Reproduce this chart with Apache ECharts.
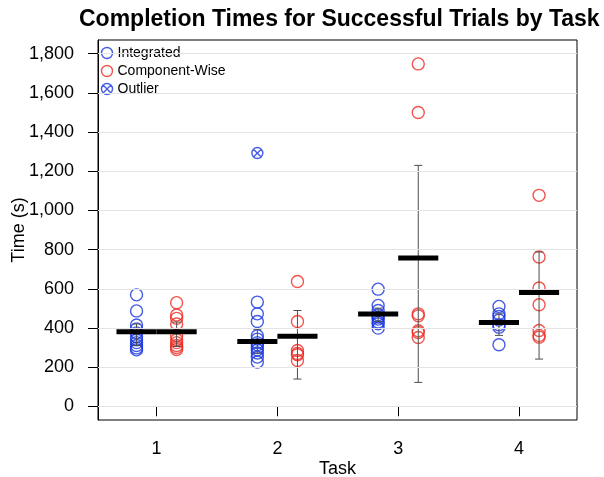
<!DOCTYPE html>
<html>
<head>
<meta charset="utf-8">
<script src="https://cdn.jsdelivr.net/npm/echarts@6/dist/echarts.min.js"></script>
<style>html,body{margin:0;padding:0;background:#fff}#c{width:604px;height:477px}</style>
</head>
<body>
<div id="c"></div>
<script>
// ---- data ----
var tasks = [1, 2, 3, 4];
var yTicks = [0, 200, 400, 600, 800, 1000, 1200, 1400, 1600, 1800];
var integrated = [
  [569, 487, 415, 395, 375, 355, 340, 325, 310, 298, 288],
  [532, 472, 433, 360, 343, 325, 314, 300, 288, 272, 251, 226],
  [598, 515, 489, 467, 455, 445, 430, 421, 399],
  [510, 472, 459, 440, 416, 404, 314]
];
var componentWise = [
  [529, 466, 449, 420, 360, 340, 325, 310, 300, 290],
  [637, 433, 285, 270, 263, 234],
  [1748, 1500, 472, 462, 386, 377, 351],
  [1077, 762, 604, 518, 387, 362, 353]
];
var outliers = [[2, 1293]]; // [task, time] integrated outlier
var meanIntegrated = [380, 331, 471, 428];
var meanComponent = [380, 357, 757, 581];
var errIntegrated = [[310, 420], [271, 393], [433, 501], [362, 472]];
var errComponent = [[305, 430], [139, 489], [122, 1230], [241, 788]];

// ---- styling / layout ----
var OFF = 0.166;
var BLUE = '#1633e0';
var RED = '#ee2a22';
var FONT = 'Liberation Sans, Arial, sans-serif';

function pts(groups, off) {
  var out = [];
  groups.forEach(function (g, i) {
    g.forEach(function (v) { out.push([tasks[i] + off, v]); });
  });
  return out;
}
function meanData(m, off) { return m.map(function (v, i) { return [tasks[i] + off, v]; }); }
function errData(e, off) { return e.map(function (r, i) { return [tasks[i] + off, r[0], r[1]]; }); }

var circleX = 'path://M0,-10A10,10,0,1,1,0,10A10,10,0,1,1,0,-10ZM-7.07,-7.07L7.07,7.07M7.07,-7.07L-7.07,7.07';

var chart = echarts.init(document.getElementById('c'), null, {renderer: 'canvas'});

function meanRender(params, api) {
  var x = api.value(0), y = api.value(1);
  var p1 = api.coord([x - OFF, y]);
  var p2 = api.coord([x + OFF, y]);
  return {type: 'line', shape: {x1: p1[0], y1: p1[1], x2: p2[0], y2: p2[1]},
    style: {stroke: '#000', lineWidth: 5}};
}
function errRender(params, api) {
  var x = api.value(0);
  var lo = api.coord([x, api.value(1)]);
  var hi = api.coord([x, api.value(2)]);
  var c = 4;
  return {type: 'group', children: [
    {type: 'line', shape: {x1: lo[0], y1: lo[1], x2: hi[0], y2: hi[1]}, style: {stroke: '#4d4d4d', lineWidth: 1}},
    {type: 'line', shape: {x1: lo[0] - c, y1: lo[1], x2: lo[0] + c, y2: lo[1]}, style: {stroke: '#4d4d4d', lineWidth: 1}},
    {type: 'line', shape: {x1: hi[0] - c, y1: hi[1], x2: hi[0] + c, y2: hi[1]}, style: {stroke: '#4d4d4d', lineWidth: 1}}
  ]};
}

var option = {
  animation: false,
  backgroundColor: '#fff',
  title: {
    text: 'Completion Times for Successful Trials by Task',
    left: 74, top: 3,
    textStyle: {fontFamily: FONT, fontWeight: 'bold', fontSize: 23, color: '#000'}
  },
  legend: {
    orient: 'vertical', left: 94, top: 40, itemGap: 2,
    itemWidth: 11, itemHeight: 11,
    textStyle: {fontFamily: FONT, fontSize: 14, color: '#000'},
    data: [
      {name: 'Integrated', icon: 'circle', itemStyle: {color: 'none', borderColor: BLUE, borderWidth: 1.4}},
      {name: 'Component-Wise', icon: 'circle', itemStyle: {color: 'none', borderColor: RED, borderWidth: 1.4}},
      {name: 'Outlier', icon: circleX, itemStyle: {color: 'none', borderColor: BLUE, borderWidth: 1.4}}
    ]
  },
  grid: {left: 98, right: 27, top: 40, bottom: 57, show: true, borderColor: '#000', borderWidth: 1,
    backgroundColor: 'transparent', containLabel: false, outerBoundsMode: 'none'},
  xAxis: {
    type: 'value', min: 0.515, max: 4.48,
    name: 'Task', nameLocation: 'middle', nameGap: 40, nameMoveOverlap: false,
    nameTextStyle: {fontFamily: FONT, fontSize: 18, color: '#000'},
    axisLine: {show: true, lineStyle: {color: '#000'}},
    axisTick: {show: true, length: 10, lineStyle: {color: '#000'}, customValues: tasks},
    axisLabel: {fontFamily: FONT, fontSize: 18, color: '#000', margin: 20, customValues: tasks},
    splitLine: {show: false}
  },
  yAxis: {
    type: 'value', min: -70, max: 1870,
    name: 'Time (s)', nameLocation: 'middle', nameGap: 70, nameMoveOverlap: false,
    nameTextStyle: {fontFamily: FONT, fontSize: 18, color: '#000'},
    axisLine: {show: true, lineStyle: {color: '#000'}},
    axisTick: {show: true, length: 10, lineStyle: {color: '#000'}, customValues: yTicks},
    axisLabel: {fontFamily: FONT, fontSize: 18, color: '#000', margin: 24, customValues: yTicks,
      formatter: function (v) { return v.toLocaleString('en-US'); }},
    splitLine: {show: false}
  },
  series: [
    {
      name: 'grid', type: 'line', data: [], silent: true,
      markLine: {silent: true, symbol: 'none', label: {show: false},
        lineStyle: {color: '#e4e4e4', type: 'solid', width: 1},
        data: yTicks.map(function (v) { return {yAxis: v}; })}
    },
    {name: 'Integrated', type: 'scatter', data: pts(integrated, -OFF), symbol: 'circle', symbolSize: 12,
      itemStyle: {color: 'none', borderColor: BLUE, borderWidth: 1.4}, z: 3},
    {name: 'Component-Wise', type: 'scatter', data: pts(componentWise, OFF), symbol: 'circle', symbolSize: 12,
      itemStyle: {color: 'none', borderColor: RED, borderWidth: 1.4}, z: 3},
    {name: 'Outlier', type: 'scatter', data: outliers.map(function (o) { return [o[0] - OFF, o[1]]; }),
      symbol: circleX, symbolSize: 11, itemStyle: {color: 'none', borderColor: BLUE, borderWidth: 1.4}, z: 3},
    {name: 'errI', type: 'custom', data: errData(errIntegrated, -OFF), renderItem: errRender, z: 4},
    {name: 'errC', type: 'custom', data: errData(errComponent, OFF), renderItem: errRender, z: 4},
    {name: 'meanI', type: 'custom', data: meanData(meanIntegrated, -OFF), renderItem: meanRender, z: 5},
    {name: 'meanC', type: 'custom', data: meanData(meanComponent, OFF), renderItem: meanRender, z: 5}
  ]
};
chart.setOption(option);
</script>
</body>
</html>
